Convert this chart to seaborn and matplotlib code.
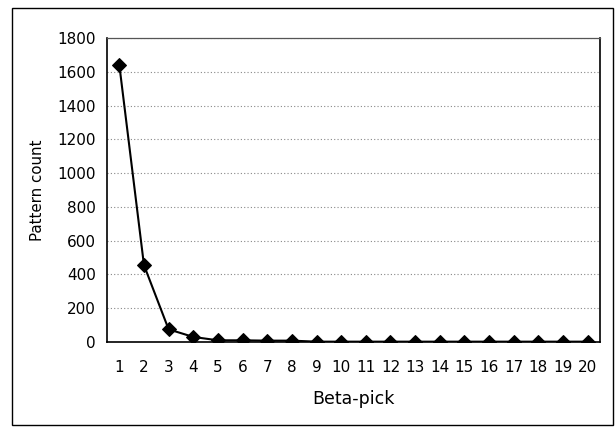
import matplotlib
matplotlib.use("Agg")
import matplotlib.pyplot as plt
import seaborn as sns
import pandas as pd
from matplotlib.patches import Rectangle

beta_pick = list(range(1, 21))
pattern_count = [1640, 455, 75, 30, 10, 10, 8, 8, 2, 2, 2, 2, 2, 2, 2, 2, 2, 2, 2, 2]
y_ticks = [0, 200, 400, 600, 800, 1000, 1200, 1400, 1600, 1800]

df = pd.DataFrame({"Beta-pick": beta_pick, "Pattern count": pattern_count})

sns.set_theme(style="white")
plt.rcParams['font.family'] = ['DejaVu Sans']

fig = plt.figure(figsize=(6.16, 4.29), dpi=100)
ax = fig.add_axes([107/616, 1 - 342/429, (600-107)/616, (342-38)/429])

sns.lineplot(data=df, x="Beta-pick", y="Pattern count", ax=ax, color="black",
             linewidth=1.5, marker="D", markersize=7, markeredgecolor="black",
             markerfacecolor="black")

ax.set_xlim(0.5, 20.5)
ax.set_ylim(0, 1800)
ax.set_yticks(y_ticks)
ax.set_xticks(beta_pick)
ax.set_xticklabels([str(b) for b in beta_pick])
ax.tick_params(axis='both', labelsize=11, colors='black', labelcolor='black', length=0)
ax.tick_params(axis='x', pad=13)
ax.tick_params(axis='y', pad=8)
ax.yaxis.grid(True, color="#888888", linestyle=(0, (1, 2)), linewidth=0.8)
ax.xaxis.grid(False)
for s in ax.spines.values():
    s.set_color("black")
    s.set_linewidth(1.2)
ax.spines['top'].set_color("#555555")
ax.spines['top'].set_linewidth(0.9)
ax.set_xlabel("Beta-pick", fontsize=12.5, labelpad=11, color="black")
ax.set_ylabel("Pattern count", fontsize=10.8, labelpad=9, color="black")

fig.patches.append(Rectangle((12/616, 4/429), (613-12)/616, (421-4)/429,
                             transform=fig.transFigure, fill=False,
                             edgecolor="black", linewidth=1.0))

fig.savefig("out.png", dpi=100)
